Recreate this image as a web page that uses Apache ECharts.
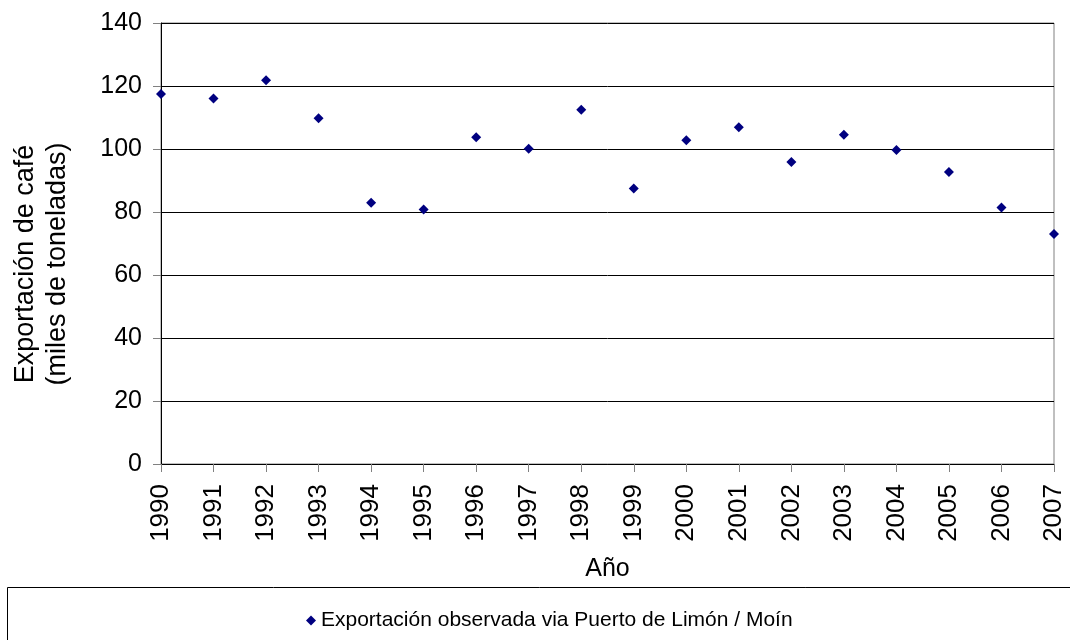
<!DOCTYPE html>
<html>
<head>
<meta charset="utf-8">
<title>Exportación de café</title>
<script src="https://cdn.jsdelivr.net/npm/echarts@6/dist/echarts.min.js"></script>
<style>
  html, body { margin: 0; padding: 0; background: #ffffff; }
  #chart { width: 1070px; height: 640px; }
</style>
</head>
<body>
<div id="chart"></div>
<script>
// datos
var years = ['1990', '1991', '1992', '1993', '1994', '1995', '1996', '1997', '1998',
  '1999', '2000', '2001', '2002', '2003', '2004', '2005', '2006', '2007'];
var exportacion = [117.5, 116, 121.8, 109.8, 82.9, 80.8, 103.7, 100.1, 112.5,
  87.5, 102.8, 106.9, 95.9, 104.5, 99.7, 92.7, 81.4, 73.0];
var yTicks = [0, 20, 40, 60, 80, 100, 120, 140];
var serieNombre = 'Exportación observada via Puerto de Limón / Moín';

var font = 'Liberation Sans, Arial, sans-serif';
var chart = echarts.init(document.getElementById('chart'));

chart.setOption({
  backgroundColor: '#ffffff',
  animation: false,
  textStyle: { fontFamily: font },
  grid: {
    left: 161,
    right: 16,
    top: 23,
    bottom: 176,
    show: true,
    borderColor: '#808080',
    borderWidth: 1
  },
  legend: {
    data: [{ name: serieNombre, icon: 'diamond' }],
    left: 301,
    top: 605,
    itemWidth: 10,
    itemHeight: 10,
    itemGap: 4,
    textStyle: { fontFamily: font, fontSize: 21, color: '#000' }
  },
  graphic: [
    {
      type: 'rect',
      left: 5,
      top: 585,
      shape: { width: 1080, height: 70 },
      style: { fill: 'none', stroke: '#000', lineWidth: 1 }
    },
    {
      type: 'text',
      x: 42,
      y: 264,
      rotation: Math.PI / 2,
      style: {
        text: 'Exportación de café\n(miles de toneladas)',
        fontFamily: font,
        fontSize: 27,
        lineHeight: 32,
        fill: '#000',
        align: 'center',
        verticalAlign: 'middle'
      }
    }
  ],
  xAxis: {
    type: 'category',
    data: years,
    boundaryGap: false,
    name: 'Año',
    nameLocation: 'middle',
    nameGap: 93,
    nameTextStyle: { fontFamily: font, fontSize: 25, color: '#000' },
    axisLine: { lineStyle: { color: '#000', width: 1 } },
    axisTick: { alignWithLabel: true, length: 8, lineStyle: { color: '#808080' } },
    axisLabel: {
      rotate: 90,
      margin: 20,
      fontFamily: font,
      fontSize: 26,
      color: '#000'
    },
    splitLine: { show: false }
  },
  yAxis: {
    type: 'value',
    min: yTicks[0],
    max: yTicks[yTicks.length - 1],
    interval: 20,
    axisLine: { show: true, lineStyle: { color: '#000', width: 1 } },
    axisTick: { show: true, length: 8, lineStyle: { color: '#808080' } },
    axisLabel: {
      margin: 19,
      fontFamily: font,
      fontSize: 25,
      color: '#000'
    },
    splitLine: { show: true, lineStyle: { color: '#000', width: 1 } }
  },
  series: [
    {
      name: serieNombre,
      type: 'scatter',
      symbol: 'diamond',
      symbolSize: 10,
      itemStyle: { color: '#000080', opacity: 1 },
      data: exportacion
    }
  ]
});
</script>
</body>
</html>
